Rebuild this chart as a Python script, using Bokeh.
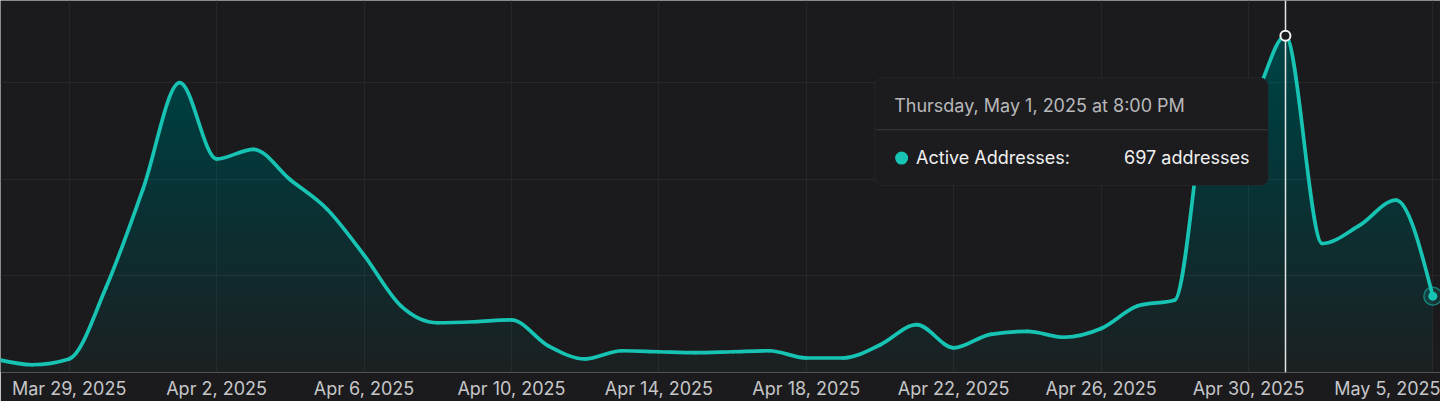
import numpy as np
import pandas as pd
from bokeh.plotting import figure
from bokeh.models import FixedTicker, BoxAnnotation, Label, Range1d
from bokeh.embed import file_html
from bokeh.resources import INLINE

# ---------------- data ----------------
dates = pd.date_range("2025-03-27", "2025-05-05", freq="D")
active_addresses = [28, 16, 28, 176, 379, 600, 442, 462, 399, 338,
                    243, 138, 103, 105, 109, 55, 28, 45, 43, 41,
                    43, 45, 30, 30, 57, 99, 51, 79, 85, 73,
                    91, 138, 150, 590, 560, 697, 267, 304, 357, 158]
tick_dates = ["2025-03-29", "2025-04-02", "2025-04-06", "2025-04-10", "2025-04-14",
              "2025-04-18", "2025-04-22", "2025-04-26", "2025-04-30", "2025-05-05"]
tick_labels = ["Mar 29, 2025", "Apr 2, 2025", "Apr 6, 2025", "Apr 10, 2025", "Apr 14, 2025",
               "Apr 18, 2025", "Apr 22, 2025", "Apr 26, 2025", "Apr 30, 2025", "May 5, 2025"]
y_grid_values = [0, 200, 400, 600]
hover_date = "2025-05-01"
tooltip_title = "Thursday, May 1, 2025 at 8:00 PM"
series_name = "Active Addresses:"

# ---------------- style ----------------
BG = "#1b1b1d"
TEAL = "#17c4b4"
FILL = "#18c2c2"
GRID = "#27272a"
FONT = "Inter"
FS = "18px"

origin = pd.Timestamp("2025-03-29")
x = np.array([(d - origin).days for d in dates], dtype=float)
y = np.array(active_addresses, dtype=float)
tick_x = [float((pd.Timestamp(t) - origin).days) for t in tick_dates]

# layout helpers: reference-pixel positions -> data units
PX_PER_DAY = 37.035
PX_PER_UNIT = 0.4935
X_ORIGIN_PX = 69.0
Y_ZERO_PX = 380.0
def dx(px):
    return (px - X_ORIGIN_PX) / PX_PER_DAY
def dy(py):
    return (Y_ZERO_PX - py) / PX_PER_UNIT

# monotone-x cubic tangents (d3 curveMonotoneX) for the smooth rendering
def monotone_tangents(xs, ys):
    n = len(xs)
    h = np.diff(xs)
    s = np.diff(ys) / h
    t = np.zeros(n)
    for i in range(1, n - 1):
        h0, h1, s0, s1 = h[i - 1], h[i], s[i - 1], s[i]
        p_ = (s0 * h1 + s1 * h0) / (h0 + h1)
        t[i] = (np.sign(s0) + np.sign(s1)) * min(abs(s0), abs(s1), 0.5 * abs(p_))
    t[0] = (3 * s[0] - t[1]) / 2
    t[-1] = (3 * s[-1] - t[-2]) / 2
    return t

tan = monotone_tangents(x, y)
h = np.diff(x)
bx0, by0, bx1, by1 = x[:-1], y[:-1], x[1:], y[1:]
cx0 = bx0 + h / 3
cy0 = by0 + tan[:-1] * h / 3
cx1 = bx1 - h / 3
cy1 = by1 - tan[1:] * h / 3

# sampled path of the same curve for the area fill
xs_f, ys_f = [], []
for i in range(len(x) - 1):
    tt = np.linspace(0, 1, 16, endpoint=(i == len(x) - 2))
    h00 = 2 * tt**3 - 3 * tt**2 + 1
    h10 = tt**3 - 2 * tt**2 + tt
    h01 = -2 * tt**3 + 3 * tt**2
    h11 = tt**3 - tt**2
    xs_f.append(x[i] + tt * h[i])
    ys_f.append(h00 * y[i] + h10 * h[i] * tan[i] + h01 * y[i + 1] + h11 * h[i] * tan[i + 1])
xs_f = np.concatenate(xs_f)
ys_f = np.concatenate(ys_f)

# ---------------- figure ----------------
p = figure(frame_width=1440, frame_height=372,
           x_range=Range1d(dx(0), dx(1447)), y_range=Range1d(0, dy(0)),
           y_axis_location=None, toolbar_location=None, output_backend="svg",
           background_fill_color=BG, border_fill_color=BG, outline_line_color=None,
           min_border_left=0, min_border_right=0, min_border_top=0, min_border_bottom=0)

p.xaxis.ticker = FixedTicker(ticks=tick_x)
p.xaxis.major_label_overrides = {tx: lab for tx, lab in zip(tick_x, tick_labels)}
p.xaxis.axis_line_color = None
p.xaxis.major_tick_line_color = None
p.xaxis.minor_tick_line_color = None
p.xaxis.major_tick_in = 0
p.xaxis.major_tick_out = 0
p.xaxis.major_label_standoff = 5
p.xaxis.major_label_text_font = FONT
p.xaxis.major_label_text_font_size = FS
p.xaxis.major_label_text_color = "#c6c6c8"

p.xgrid.ticker = FixedTicker(ticks=tick_x)
p.ygrid.ticker = FixedTicker(ticks=y_grid_values)
p.xgrid.grid_line_color = GRID
p.ygrid.grid_line_color = GRID
p.xgrid.grid_line_width = 1
p.ygrid.grid_line_width = 1

# gradient-like fill: stacked translucent bands, stronger toward the top
peak = y.max()
N = 36
levels = np.linspace(0, peak, N, endpoint=False)
target = 0.03 + 0.21 * np.arange(N) / (N - 1)
prev = 0.0
for L, c in zip(levels, target):
    a = 1 - (1 - c) / (1 - prev)
    prev = c
    p.varea(x=xs_f, y1=np.full_like(xs_f, L), y2=np.maximum(ys_f, L),
            fill_color=FILL, fill_alpha=float(a))

# line
p.bezier(x0=bx0, y0=by0, x1=bx1, y1=by1, cx0=cx0, cy0=cy0, cx1=cx1, cy1=cy1,
         line_color=TEAL, line_width=3.7, line_cap="round")

# hover crosshair + point
hi = int(np.where(dates == pd.Timestamp(hover_date))[0][0])
p.vspan(x=[x[hi]], line_color="#e4e4e6", line_width=1.5)
p.scatter([x[hi]], [y[hi]], size=10, fill_color=BG, line_color="#f2f2f2", line_width=2)

# end marker
p.scatter([x[-1]], [y[-1]], size=18, fill_color=TEAL, fill_alpha=0.15,
          line_color=TEAL, line_alpha=0.55, line_width=1.5)
p.scatter([x[-1]], [y[-1]], size=9, fill_color=TEAL, line_color=None)

# tooltip
p.add_layout(BoxAnnotation(left=dx(878), right=dx(1274), top=dy(79), bottom=dy(189),
                           fill_color="#1c1c1f", fill_alpha=1.0, line_color="#3a3a3e",
                           line_width=1, border_radius=8))
p.add_layout(BoxAnnotation(left=dx(879), right=dx(1273), top=dy(131.5), bottom=dy(132.5),
                           fill_color="#3a3a3e", fill_alpha=1.0, line_alpha=0))
p.add_layout(Label(x=dx(898), y=dy(107), text=tooltip_title, text_font=FONT,
                   text_font_size=FS, text_color="#b8b8ba", text_baseline="middle"))
p.add_layout(Label(x=dx(920), y=dy(160), text=series_name, text_font=FONT,
                   text_font_size=FS, text_color="#f0f0f0", text_baseline="middle"))
p.add_layout(Label(x=dx(1255), y=dy(160), text=f"{int(y[hi])} addresses", text_font=FONT,
                   text_font_size=FS, text_color="#f0f0f0", text_baseline="middle",
                   text_align="right"))
dot = p.scatter([dx(905.5)], [dy(161)], size=13, fill_color=TEAL, line_color=None)
dot.level = "overlay"

open("out.html", "w").write(file_html(p, INLINE))
